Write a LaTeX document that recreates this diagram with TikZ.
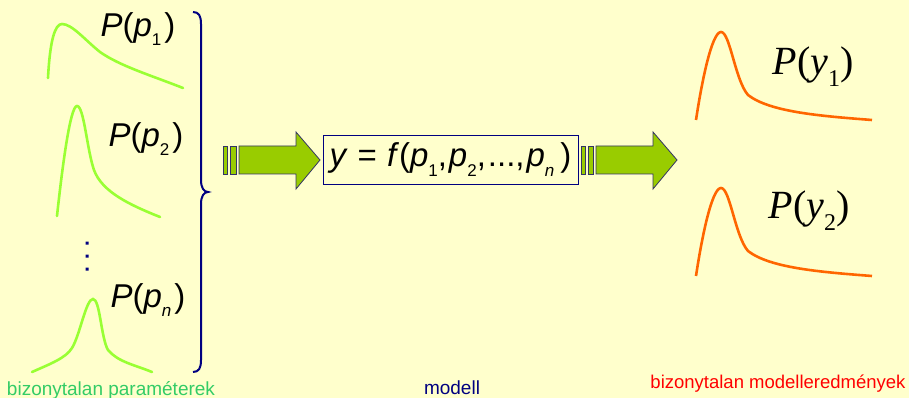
\documentclass[tikz,border=0pt]{standalone}
\usepackage{fontspec}
\setmainfont{Liberation Sans}
\newfontfamily\timesf{Liberation Serif}
\definecolor{bgyellow}{HTML}{FFFFCC}
\definecolor{lgreen}{HTML}{99FF33}
\definecolor{lblgreen}{HTML}{33CC66}
\definecolor{navy}{HTML}{000080}
\definecolor{arrowgreen}{HTML}{99CC00}
\definecolor{arrowline}{HTML}{333366}
\definecolor{orangec}{HTML}{FF6600}
\tikzset{
  pcurve/.style={draw=lgreen, line width=2.6pt, line cap=round},
  ycurve/.style={draw=orangec, line width=2.6pt},
  plabel/.style={font=\fontsize{33}{38}\selectfont, inner sep=0pt},
  ylabel/.style={font=\timesf\fontsize{40}{44}\selectfont, inner sep=0pt},
  bigarrow/.style={fill=arrowgreen, draw=arrowline, line width=0.8pt, line join=miter},
  botlabel/.style={font=\fontsize{19}{22}\selectfont, inner sep=0pt, anchor=base},
}
\newcommand{\ip}{\textit{p}}
\newcommand{\mysub}[1]{\raisebox{-0.28em}{\fontsize{17}{17}\selectfont #1}}
\newcommand{\ysub}[1]{\raisebox{-0.3em}{\fontsize{24}{24}\selectfont #1}}
\begin{document}
\begin{tikzpicture}[x=1pt,y=-1pt]
\useasboundingbox (0,0) rectangle (909,398);
\fill[bgyellow] (0,0) rectangle (909,398);

% input distributions
\draw[pcurve] (48,78) .. controls (50,40) and (55,24) .. (62,24) .. controls (72,24) and (85,40) .. (100,52) .. controls (120,66) and (150,75) .. (183,88);
\draw[pcurve] (57,216) .. controls (62,170) and (70,106) .. (77,106) .. controls (84,106) and (87,150) .. (94,170) .. controls (102,192) and (130,205) .. (160,217);
\draw[pcurve] (32,372) .. controls (50,364) and (66,358) .. (72,348) .. controls (80,335) and (86,299) .. (93,299) .. controls (100,299) and (101,338) .. (108,350) .. controls (118,362) and (135,365) .. (152,372);

\node[plabel] (p1) at (138,29) {\textit{P}(\ip\mysub{1}\hspace{3pt})};
\node[plabel] (p2) at (146,139) {\textit{P}(\ip\mysub{2}\hspace{3pt})};
\node[plabel] (pn) at (148,300) {\textit{P}(\ip\mysub{\textit{n}}\hspace{3pt})};

\fill[navy] (85.5,241.5) rectangle +(3,3) (85.5,254.5) rectangle +(3,3) (85.5,267.5) rectangle +(3,3);
\coordinate (dots) at (87,256);

% brace
\draw[navy, line width=2pt] (193,12) .. controls (199,12) and (201,16) .. (201,24) -- (201,180) .. controls (201,188) and (204,192) .. (208,192) .. controls (204,192) and (201,196) .. (201,204) -- (201,360) .. controls (201,368) and (199,372) .. (193,372);
\coordinate (bracetip) at (208,192);

% arrow 1
\draw[bigarrow] (223,146) rectangle (227,174);
\draw[bigarrow] (230,146) rectangle (236,174);
\draw[bigarrow] (239,146) -- (296,146) -- (296,132) -- (320,160) -- (296,189) -- (296,174) -- (239,174) -- cycle;

% model box
\node[draw=navy, line width=0.8pt, minimum width=255pt, minimum height=49pt, inner sep=0pt,
      font=\fontsize{33}{38}\selectfont] (model) at (450.5,159.5)
  {\textit{y}\hspace{10pt}=\hspace{10pt}\textit{f}(\ip\mysub{1},\hspace{2pt}\ip\mysub{2},\hspace{2pt}...,\hspace{2pt}\ip\mysub{\textit{n}}\hspace{6pt})};

% arrow 2
\draw[bigarrow] (581,146) rectangle (585,174);
\draw[bigarrow] (588,146) rectangle (593,174);
\draw[bigarrow] (596,146) -- (653,146) -- (653,132) -- (677,160) -- (653,189) -- (653,174) -- (596,174) -- cycle;

% output distributions
\draw[ycurve] (696,120) .. controls (702,80) and (712,32) .. (721,32) .. controls (730,32) and (735,80) .. (748,95) .. controls (770,112) and (820,116) .. (872,120);
\draw[ycurve] (696,276) .. controls (702,236) and (712,188) .. (721,188) .. controls (730,188) and (735,236) .. (748,251) .. controls (770,268) and (820,272) .. (872,276);

\node[ylabel] (y1) at (813,67) {\textit{P}(\textit{y}\ysub{1})};
\node[ylabel] (y2) at (809,211) {\textit{P}(\textit{y}\ysub{2})};

% bottom labels
\node[botlabel, text=lblgreen] (lin) at (111,395) {bizonytalan paraméterek};
\node[botlabel, text=navy] (lmod) at (452,394) {modell};
\node[botlabel, text=red, font=\fontsize{18.5}{22}\selectfont] (lout) at (778,388) {bizonytalan modelleredmények};
\end{tikzpicture}
\end{document}
